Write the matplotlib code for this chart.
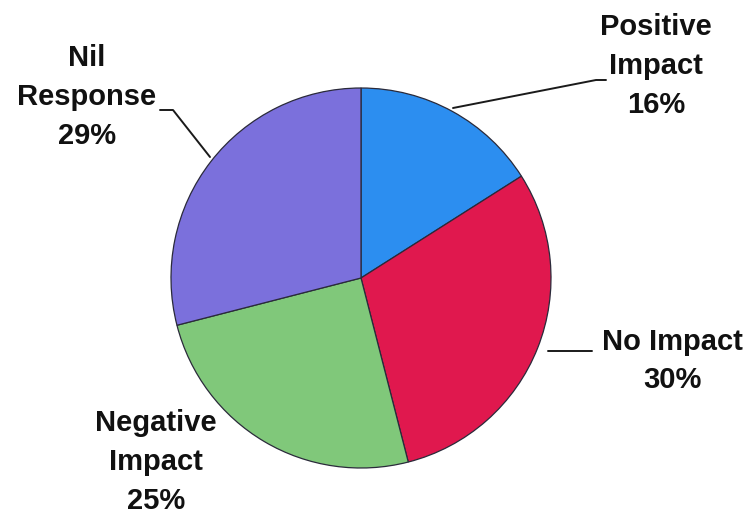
import matplotlib.pyplot as plt

# Survey responses
categories = ["Positive\nImpact", "No Impact", "Negative\nImpact", "Nil\nResponse"]
shares = [16, 30, 25, 29]
colors = ["#2c8ef0", "#e0184e", "#80c87a", "#7b70dc"]

W, H = 751, 523
fig = plt.figure(figsize=(W / 100, H / 100), dpi=100)
ax = fig.add_axes([0, 0, 1, 1])

cx, cy, r = 361, H - 278, 190
ax.pie(shares, colors=colors, startangle=90, counterclock=False,
       center=(cx, cy), radius=r,
       wedgeprops=dict(edgecolor="#2a2a3a", linewidth=0.9))
ax.set_xlim(0, W)
ax.set_ylim(0, H)
ax.set_aspect("equal")
ax.axis("off")

font = dict(family="Liberation Sans", weight="bold", fontsize=21,
            color="#111111", ha="center", va="center", linespacing=1.5)

# label text positions (pixel space, y measured from top)
label_pos = [(656, 66), (672, 361), (156, 462), (87, 97)]
for name, val, (x, y) in zip(categories, shares, label_pos):
    ax.text(x, H - y, f"{name}\n{val}%", **font)

# leader lines
lk = dict(color="#1a1a1a", linewidth=1.4, solid_capstyle="round")
ax.plot([453, 596, 606], [H - 108, H - 80, H - 80], **lk)
ax.plot([548, 592], [H - 351, H - 351], **lk)
ax.plot([160, 173, 210], [H - 110, H - 110, H - 157], **lk)

fig.savefig("out.png", dpi=100, facecolor="white")
